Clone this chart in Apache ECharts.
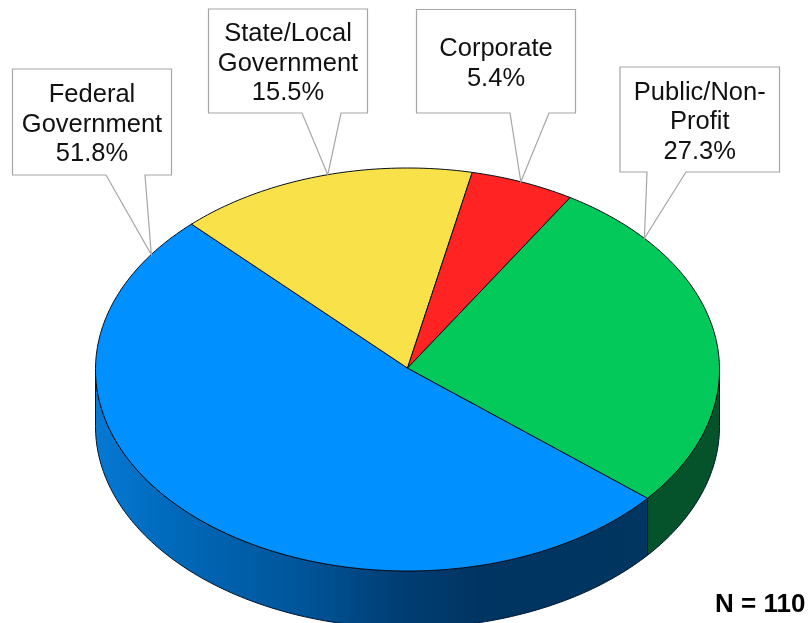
<!DOCTYPE html>
<html>
<head>
<meta charset="utf-8">
<script src="https://cdn.jsdelivr.net/npm/echarts@6/dist/echarts.min.js"></script>
<style>html,body{margin:0;padding:0;background:#fff}#c{width:810px;height:623px}</style>
</head>
<body>
<div id="c"></div>
<script>
// Data
const categories = ['Federal\nGovernment', 'State/Local\nGovernment', 'Corporate', 'Public/Non-\nProfit'];
const shares = [51.8, 15.5, 5.4, 27.3];
const sampleNote = 'N = 110';

// Styling
const topColors = ['#0090ff', '#f9e14a', '#ff2323', '#02c95a'];
const sideFills = [
  {type:'linear',x:0,y:0,x2:1,y2:0,colorStops:[
    {offset:0,color:'#0679d4'},{offset:.14,color:'#0069ba'},{offset:.37,color:'#00559a'},
    {offset:.56,color:'#003d72'},{offset:.7,color:'#003462'},{offset:1,color:'#003660'}]},
  '#f0d030','#c01010','#04532a'];
const START_ANGLE = 129.7;        // clockwise from 12 o'clock, where the first slice starts
const DEPTH = 57 / 201.5;         // pie thickness in axis units
const APEX_Y = 0.007;
const tipAngles = [304.8, 345.2, 21.3, 49.4];
// Callout boxes: left, top, width, height, and wedge base x-positions
const boxes = [
  {x:12.5, y:69, w:159, h:106, b0:106, b1:145},
  {x:208.5,y:9,  w:159, h:104, b0:302, b1:341},
  {x:416.5,y:9.5,w:159, h:103.5,b0:510, b1:549},
  {x:620, y:67, w:159.5,h:105, b0:647, b1:686}
];
const TEXT_NUDGE = 2.5;

const total = shares.reduce((a, b) => a + b, 0);
const startOf = i => (START_ANGLE + shares.slice(0, i).reduce((a, b) => a + b, 0) / total * 360) % 360;
const rad = d => d * Math.PI / 180;
const onRim = (api, deg, drop) => api.coord([Math.sin(rad(deg)), Math.cos(rad(deg)) - (drop || 0)]);
function arc(api, a, b, drop) {
  const pts = [];
  const n = Math.max(2, Math.ceil(Math.abs(b - a)));
  for (let i = 0; i <= n; i++) pts.push(onRim(api, a + (b - a) * i / n, drop));
  return pts;
}

const chart = echarts.init(document.getElementById('c'), null, {renderer:'canvas'});
chart.setOption({
  animation:false,
  backgroundColor:'#fff',
  grid:{left:95.5, width:624, top:168, height:403},
  xAxis:{type:'value', min:-1, max:1, show:false},
  yAxis:{type:'value', min:-1, max:1, show:false},
  series:[
    { // visible outer wall of each slice
      type:'custom', coordinateSystem:'cartesian2d', silent:true, z:1,
      data:shares.map((v, i) => [i, v]),
      renderItem(p, api) {
        const i = api.value(0);
        const a = startOf(i), b = a + api.value(1) / total * 360;
        const lo = Math.max(a, 90), hi = Math.min(b, 270);
        if (hi <= lo) return {type:'group', children:[]};
        const pts = arc(api, lo, hi, 0).concat(arc(api, hi, lo, DEPTH));
        return {type:'polygon', shape:{points:pts},
          style:{fill:sideFills[i], stroke:'#00152b', lineWidth:1}};
      }
    },
    { // top face of each slice
      type:'custom', coordinateSystem:'cartesian2d', silent:true, z:2,
      data:shares.map((v, i) => [i, v]),
      renderItem(p, api) {
        const i = api.value(0);
        const a = startOf(i), b = a + api.value(1) / total * 360;
        const pts = [api.coord([0, APEX_Y])].concat(arc(api, a, b, 0));
        return {type:'polygon', shape:{points:pts},
          style:{fill:topColors[i], stroke:'#06101a', lineWidth:1, lineJoin:'round'}};
      }
    },
    { // callouts
      type:'custom', coordinateSystem:'cartesian2d', silent:true, z:3,
      data:shares.map((v, i) => [i, v]),
      renderItem(p, api) {
        const i = api.value(0), bx = boxes[i];
        const tip = onRim(api, tipAngles[i], 0);
        const bot = bx.y + bx.h;
        return {type:'group', children:[
          {type:'polygon', shape:{points:[
            [bx.x,bx.y],[bx.x+bx.w,bx.y],[bx.x+bx.w,bot],[bx.b1,bot],tip,[bx.b0,bot],[bx.x,bot]]},
            style:{fill:'#fff', stroke:'#a6a6a6', lineWidth:1.2}},
          {type:'text', style:{
            x:bx.x + bx.w/2, y:bx.y + bx.h/2 + TEXT_NUDGE,
            text:categories[i] + '\n' + api.value(1).toFixed(1) + '%',
            fill:'#111', font:'25.5px "Liberation Sans", Arial, sans-serif',
            align:'center', verticalAlign:'middle', lineHeight:29.5}}
        ]};
      }
    }
  ],
  graphic:[{type:'text', z:10, left:715, top:592,
    style:{text:sampleNote, fill:'#000', font:'bold 26px "Liberation Sans", Arial, sans-serif'}}]
});
</script>
</body>
</html>
